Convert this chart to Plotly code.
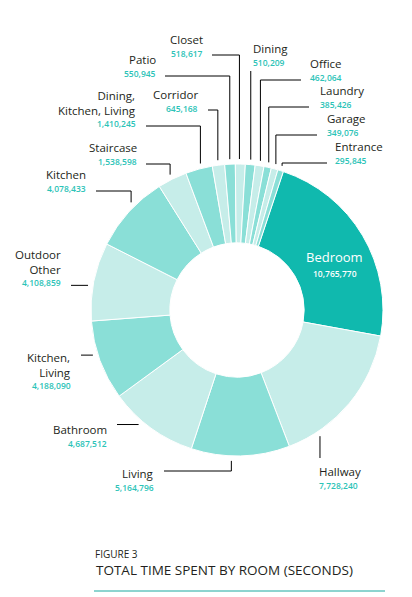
import math
import plotly.graph_objects as go

# room totals, in the order they run clockwise round the ring
rooms = ["Bedroom", "Hallway", "Living", "Bathroom", "Kitchen, Living",
         "Outdoor Other", "Kitchen", "Staircase", "Dining, Kitchen, Living",
         "Corridor", "Patio", "Closet", "Dining", "Office", "Laundry",
         "Garage", "Entrance"]
seconds = [10765770, 7728240, 5164796, 4687512, 4188090, 4108859, 4078433,
           1538598, 1410245, 645168, 550945, 518617, 510209, 462064, 385426,
           349076, 295845]

TEAL = "#10b9ae"
MID = "#8adfd7"
LIGHT = "#c6ede9"
VALUE_COL = "#2cc3b7"
INK = "#231f20"
FONT = "Open Sans"

W, H = 412, 597
OFF = 8                        # page body margin pushes the plot down/right
CX, CY, R = 237, 310, 146      # ring centre and outer radius in screen pixels
ROT = 18.5                     # first slice starts this many degrees past 12 o'clock

colors = [TEAL] + [LIGHT if i % 2 == 0 else MID for i in range(len(rooms) - 1)]

# where each callout sits: name text, value x/y (px), anchor side,
# leader style and where along the slice the leader meets the ring
callouts = {
    "Hallway":  ("Hallway", 318, 485, "left", "v", 458, 0.79),
    "Living":   ("Living", 155, 487, "right", "hv", (164, 471), 0.59),
    "Bathroom": ("Bathroom", 108, 443, "right", "h", 117, 0.63),
    "Kitchen, Living": ("Kitchen,<br>Living", 72, 385, "right", "h", 81, 0.59),
    "Outdoor Other": ("Outdoor<br>Other", 62, 282, "right", "h", 71, 0.44),
    "Kitchen":  ("Kitchen", 87, 188, "right", "hv", (96, 191), 0.6),
    "Staircase": ("Staircase", 138, 161, "right", "hv", (146, 164), 0.5),
    "Dining, Kitchen, Living": ("Dining,<br>Kitchen, Living", 137, 123, "right", "hv", (146, 126), 0.6),
    "Corridor": ("Corridor", 199, 108, "right", "hv", (208, 110), 0.5),
    "Patio":    ("Patio", 157, 73, "right", "hv", (165, 76), 0.5),
    "Closet":   ("Closet", 204, 53, "right", "hv", (212, 55), 0.4),
    "Dining":   ("Dining", 252, 62, "left", "v", 71, 0.5),
    "Office":   ("Office", 309, 77, "left", "hv", (301, 80), 0.5),
    "Laundry":  ("Laundry", 319, 104, "left", "hv", (309, 107), 0.5),
    "Garage":   ("Garage", 326, 132, "left", "hv", (317, 135), 0.5),
    "Entrance": ("Entrance", 334, 160, "left", "hv", (327, 163), 0.5),
}

total = sum(seconds)
starts = []
acc = 0
for v in seconds:
    starts.append(acc)
    acc += v


def ring_point(i, frac, radius):
    ang = math.radians(ROT + 360 * (starts[i] + frac * seconds[i]) / total)
    return CX + radius * math.sin(ang), CY - radius * math.cos(ang)


fig = go.Figure()

pcx, pcy = CX - OFF, CY - OFF
fig.add_trace(go.Pie(
    labels=rooms, values=seconds, sort=False, direction="clockwise",
    rotation=ROT, hole=0.46, textinfo="none",
    marker=dict(colors=colors, line=dict(color="white", width=1)),
    domain=dict(x=[(pcx - R) / W, (pcx + R) / W],
                y=[(H - pcy - R) / H, (H - pcy + R) / H]),
    showlegend=False,
))

annotations = []
for i, room in enumerate(rooms):
    val = f"{seconds[i]:,}"
    if room == "Bedroom":
        bx, by = ring_point(i, 0.5, 110)
        annotations.append(dict(x=bx + 3, y=by + 13, text=room, showarrow=False,
                                font=dict(family=FONT, size=13, color="white"),
                                xanchor="center", yanchor="bottom", borderpad=0))
        annotations.append(dict(x=bx + 3, y=by + 13, text=val, showarrow=False,
                                font=dict(family=FONT, size=8.5, color="white", weight=600),
                                xanchor="center", yanchor="top", borderpad=0))
        continue
    name, vx, vy, side, style, lead, frac = callouts[room]
    nlines = name.count("<br>") + 1
    annotations.append(dict(x=vx, y=vy - 13.5 - (nlines - 1) * 7, text=name, showarrow=False,
                            font=dict(family=FONT, size=11.5, color=INK),
                            xanchor=side, yanchor="middle", align=side, borderpad=0))
    annotations.append(dict(x=vx, y=vy, text=val, showarrow=False,
                            font=dict(family=FONT, size=8.5, color=VALUE_COL, weight=600),
                            xanchor=side, yanchor="middle", borderpad=0))

    ax, ay = ring_point(i, frac, R + 5)
    if style == "hv":
        sx, sy = lead
        xs, ys = [sx, ax, ax], [sy, sy, ay]
    elif style == "v":
        xs, ys = [ax, ax], [lead, ay]
    else:
        xs, ys = [lead, ax], [ay, ay]
    fig.add_trace(go.Scatter(x=xs, y=ys, mode="lines", hoverinfo="skip",
                             line=dict(color="black", width=1), showlegend=False))

annotations.append(dict(x=93, y=554, text="FIGURE 3", showarrow=False,
                        font=dict(family=FONT, size=10, color=INK),
                        xanchor="left", yanchor="middle"))
annotations.append(dict(x=94, y=570, text="TOTAL TIME SPENT BY ROOM (SECONDS)",
                        showarrow=False, font=dict(family=FONT, size=13.5, color=INK, weight=500),
                        xanchor="left", yanchor="middle"))

fig.add_trace(go.Scatter(x=[94, 385], y=[591, 591], mode="lines", hoverinfo="skip",
                         line=dict(color="#1aa9a0", width=1), showlegend=False))

fig.update_layout(
    width=W, height=H, margin=dict(l=0, r=0, t=0, b=0),
    paper_bgcolor="white", plot_bgcolor="rgba(0,0,0,0)",
    xaxis=dict(range=[OFF, W + OFF], visible=False, fixedrange=True),
    yaxis=dict(range=[H + OFF, OFF], visible=False, fixedrange=True),
    annotations=[dict(a, xref="x", yref="y") for a in annotations],
)

fig.write_html("out.html")
